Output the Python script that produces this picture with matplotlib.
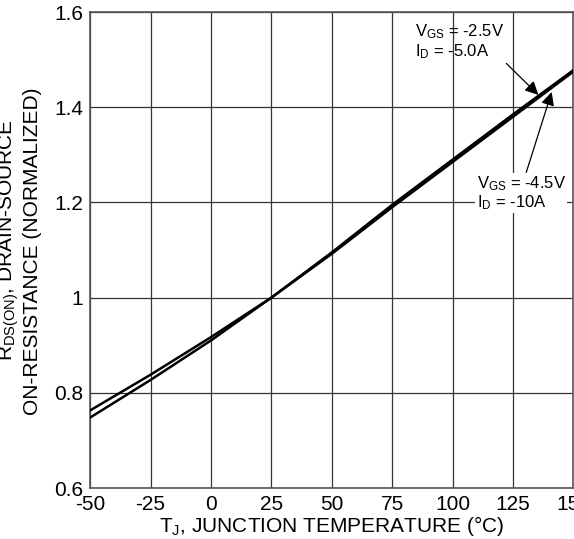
import numpy as np
import matplotlib
matplotlib.use("Agg")
import matplotlib.pyplot as plt

plt.rcParams['font.family'] = ['Liberation Sans', 'DejaVu Sans']
plt.rcParams['mathtext.default'] = 'regular'
plt.rcParams['axes.unicode_minus'] = False

# данные
temp = [-50, -25, 0, 25, 50, 75, 100, 125, 150]
r_vgs25 = [0.763, 0.838, 0.917, 1.0, 1.092, 1.19, 1.285, 1.38, 1.475]
r_vgs45 = [0.748, 0.827, 0.910, 1.0, 1.095, 1.195, 1.29, 1.385, 1.478]
xticks = [-50, -25, 0, 25, 50, 75, 100, 125, 150]
yticks = [0.6, 0.8, 1.0, 1.2, 1.4, 1.6]
ytick_labels = ['0.6', '0.8', '1', '1.2', '1.4', '1.6']

fig = plt.figure(figsize=(5.74, 5.39), dpi=100)
ax = fig.add_axes([0.157, 0.0946, 0.842, 0.883])

ax.plot(temp, r_vgs25, color='black', linewidth=1.8, zorder=3)
ax.plot(temp, r_vgs45, color='black', linewidth=1.8, zorder=3)

ax.set_xlim(-50, 150)
ax.set_ylim(0.6, 1.6)
ax.set_xticks(xticks)
ax.set_yticks(yticks)
ax.set_yticklabels(ytick_labels)
ax.tick_params(length=0, labelsize=15, colors='black')
ax.tick_params(axis='y', pad=5)
ax.tick_params(axis='x', pad=5)
ax.grid(True, color='#333333', linewidth=0.9)
for s in ax.spines.values():
    s.set_color('#555555')
    s.set_linewidth(1.2)

ax.set_xlabel('T$_{J}$, JUNCTION TEMPERATURE (°C)', fontsize=15, labelpad=0)

# подпись оси Y — две строки, первая обрезана левым краем
fig.text(9/574, 1 - 240/539, 'R$_{DS(ON)}$, DRAIN-SOURCE', rotation=90,
         ha='center', va='center', fontsize=15)
fig.text(33/574, 1 - 251/539, 'ON-RESISTANCE (NORMALIZED)', rotation=90,
         ha='center', va='center', fontsize=15)

ax.annotate('V$_{GS}$ = -2.5V\nI$_{D}$ = -5.0A', xy=(135.5, 1.426), xytext=(84.5, 1.578),
            fontsize=12, va='top', ha='left', linespacing=1.05,
            arrowprops=dict(arrowstyle='-|>', color='black', lw=0.9, mutation_scale=20,
                            shrinkA=0, shrinkB=0, relpos=(0.97, 0.05)))
ax.annotate('V$_{GS}$ = -4.5V\nI$_{D}$ = -10A', xy=(141, 1.432), xytext=(110, 1.26),
            fontsize=12, va='top', ha='left', linespacing=1.05,
            bbox=dict(facecolor='white', edgecolor='none', pad=1),
            arrowprops=dict(arrowstyle='-|>', color='black', lw=0.9, mutation_scale=20,
                            shrinkA=0, shrinkB=0, relpos=(0.55, 1.0)))

fig.savefig('out.png', dpi=100)
